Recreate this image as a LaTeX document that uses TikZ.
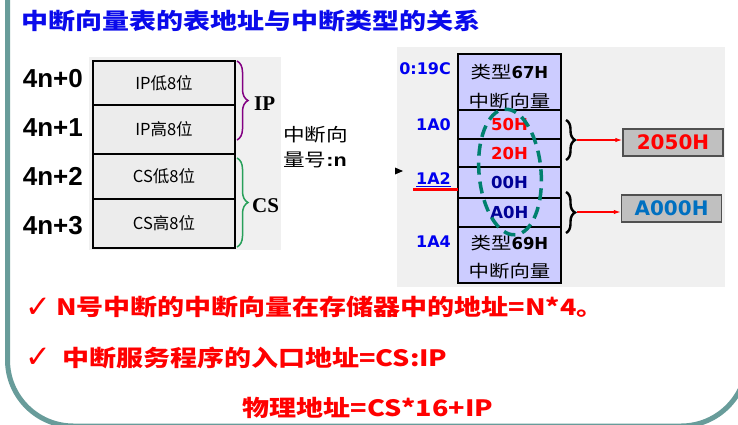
\documentclass[tikz,border=0pt]{standalone}
\usepackage{fontspec}
\setmainfont{Noto Sans CJK SC}
\newfontfamily\arialf{Liberation Sans}
\newfontfamily\timesf{Liberation Serif}
\newfontfamily\verdf{DejaVu Sans}
\usetikzlibrary{positioning, decorations.pathreplacing, arrows.meta}

\definecolor{frameteal}{RGB}{104,156,154}
\definecolor{panelgray}{RGB}{240,240,240}
\definecolor{cellgray}{RGB}{236,236,236}
\definecolor{memblue}{RGB}{204,204,255}
\definecolor{titleblue}{RGB}{10,10,235}
\definecolor{addrblue}{RGB}{0,0,240}
\definecolor{navy}{RGB}{0,0,150}
\definecolor{ipviolet}{RGB}{130,0,130}
\definecolor{csgreen}{RGB}{40,160,90}
\definecolor{ringteal}{RGB}{0,128,110}
\definecolor{valred}{RGB}{255,0,0}
\definecolor{valblue}{RGB}{0,112,192}
\definecolor{boxgray}{RGB}{192,192,192}
\definecolor{boxedge}{RGB}{80,80,80}

\newcommand{\fsz}[1]{\fontsize{#1}{#1}\selectfont}
\newcommand{\stretchx}[1]{\scalebox{1.2}[1]{#1}}

\begin{document}
\begin{tikzpicture}[x=1pt,y=-1pt,
    cell/.style={draw, line width=1.6pt, fill=cellgray, minimum width=142pt,
      inner sep=0pt, outer sep=0pt, font=\fsz{16.5}},
    memcell/.style={draw, line width=1.6pt, fill=memblue, minimum width=103pt,
      inner sep=0pt, outer sep=0pt, font=\verdf\bfseries\fsz{16.5}},
    offs/.style={anchor=east, inner sep=0pt, font=\arialf\bfseries\fsz{26}},
    addr/.style={anchor=east, inner sep=0pt, text=addrblue, font=\verdf\bfseries\fsz{16}},
    lbrace/.style={decorate, decoration={brace, amplitude=11pt}, line width=1.5pt},
    rbrace/.style={decorate, decoration={brace, amplitude=9pt}, line width=2.4pt},
    regname/.style={anchor=west, inner sep=0pt, font=\timesf\bfseries\fsz{21}},
    valbox/.style={draw=boxedge, line width=1.4pt, fill=boxgray, minimum width=100pt,
      minimum height=27pt, inner sep=0pt, font=\verdf\bfseries\fsz{20}},
    ptr/.style={-{Latex[length=7pt,width=4.5pt]}, draw=valred, line width=1.3pt},
    note/.style={inner sep=0pt, text=valred, font=\bfseries\fsz{22.5}},
    tick/.style={inner sep=0pt, text=valred, font=\verdf\fsz{22}}]
  \useasboundingbox (0,0) rectangle (738,424);
  \clip (0,0) rectangle (738,424);

  % slide frame and picture panels
  \draw[frameteal, line width=5pt, rounded corners=66pt] (7.5,-100) rectangle (747,426);
  \fill[panelgray] (89,57) rectangle (281,250);
  \fill[panelgray] (397,47) rectangle (725,287);

  \node[anchor=west, inner sep=0pt, text=titleblue, font=\bfseries\fsz{22.5}] (title) at (21,21)
    {\stretchx{中断向量表的表地址与中断类型的关系}};

  % vector table entry
  \node[cell, minimum height=44pt] (ipLow) at (164,83) {IP低8位};
  \node[cell, minimum height=49pt, below=0pt of ipLow] (ipHigh) {IP高8位};
  \node[cell, minimum height=45pt, below=0pt of ipHigh] (csLow) {CS低8位};
  \node[cell, minimum height=49pt, below=0pt of csLow] (csHigh) {CS高8位};

  \node[offs] (off0) at (83,79) {4n+0};
  \node[offs] (off1) at (83,128) {4n+1};
  \node[offs] (off2) at (83,176) {4n+2};
  \node[offs] (off3) at (83,226) {4n+3};

  \draw[lbrace, ipviolet] (237,61) -- (237,140);
  \draw[lbrace, csgreen] (237,158) -- (237,247);
  \node[regname] (ipName) at (254,104) {IP};
  \node[regname] (csName) at (252,206) {CS};

  \node[anchor=west, inner sep=0pt, align=left, font=\fsz{18}] (typeNo) at (283,147)
    {\stretchx{中断向}\\[7pt]\stretchx{量号{\arialf\bfseries :n}}};

  % memory around 0:1A0
  \node[memcell, minimum height=56pt] (m67) at (509.5,82) {};
  \node[memcell, minimum height=29pt, below=0pt of m67, text=valred] (m50) {50H};
  \node[memcell, minimum height=28pt, below=0pt of m50, text=valred] (m20) {20H};
  \node[memcell, minimum height=31pt, below=0pt of m20, text=navy] (m00) {00H};
  \node[memcell, minimum height=29pt, below=0pt of m00, text=navy] (mA0) {A0H};
  \node[memcell, minimum height=56pt, below=0pt of mA0] (m69) {};

  \node[inner sep=0pt, font=\fsz{17}] (t67) at (509.5,72)
    {\stretchx{类型}{\verdf\bfseries\fsz{16.5}67H}};
  \node[inner sep=0pt, font=\fsz{17}] (v67) at (509.5,101) {\stretchx{中断向量}};
  \node[inner sep=0pt, font=\fsz{17}] (t69) at (509.5,243)
    {\stretchx{类型}{\verdf\bfseries\fsz{16.5}69H}};
  \node[inner sep=0pt, font=\fsz{17}] (v69) at (509.5,271) {\stretchx{中断向量}};

  \node[addr] (a19C) at (451,69) {0:19C};
  \node[addr] (a1A0) at (451,125) {1A0};
  \node[addr] (a1A2) at (451,180) {\underline{1A2}};
  \node[addr] (a1A4) at (451,242) {1A4};

  \fill (395,167.5) -- (403,171) -- (395,174.5) -- cycle;
  \coordinate (mark) at (413,189);
  \draw[valred, line width=3pt] (mark) -- (mark -| m00.west);

  \draw[ringteal, line width=3.5pt, dash pattern=on 12pt off 7pt,
    rotate around={5:(510,172)}] (510,172) ellipse [x radius=31, y radius=63];

  % CS and IP values
  \draw[rbrace] (566,120) -- (566,160);
  \draw[rbrace] (566,192) -- (566,233);
  \coordinate (ipTip) at (577,140);
  \coordinate (csTip) at (577,212);

  \node[valbox, text=valred] (v2050) at (673,142.5) {2050H};
  \node[valbox, text=valblue] (vA000) at (671.5,208.5) {A000H};
  \draw[ptr] (ipTip) -- (ipTip -| v2050.west);
  \draw[ptr] (csTip) -- (csTip -| vA000.west);

  % notes
  \node[tick] (tick1) at (38,308) {\scalebox{1.4}{✓}};
  \node[note, anchor=west] (note1) at (56,307) {\stretchx{N号中断的中断向量在存储器中的地址=N*4。}};
  \node[tick] (tick2) at (38,358) {\scalebox{1.4}{✓}};
  \node[note, anchor=west] (note2) at (62,358) {\stretchx{中断服务程序的入口地址=CS:IP}};
  \node[note] (note3) at (368,408) {\stretchx{物理地址=CS*16+IP}};
\end{tikzpicture}
\end{document}
